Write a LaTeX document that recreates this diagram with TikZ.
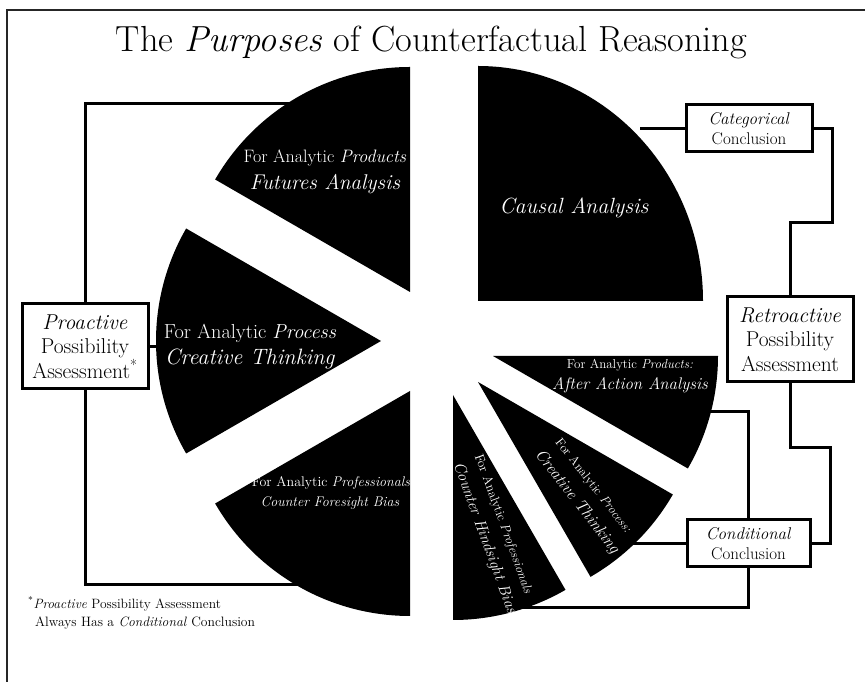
\documentclass[tikz,border=0pt]{standalone}
\usepackage{tikz}
\newcommand{\fs}[2]{\fontsize{#1}{#2}\selectfont}
\begin{document}
\begin{tikzpicture}[x=1pt,y=1pt,
  sector/.style={fill=black},
  conn/.style={line width=3pt,draw=black},
  frameline/.style={line width=2.6pt,draw=black!85},
  box/.style={draw=black,line width=3pt,fill=white,inner sep=0pt,align=center,minimum width=126pt},
  bigbox/.style={box,minimum height=85pt,font=\fs{21.5}{24.5}},
  smallbox/.style={box,minimum height=47pt,font=\fs{17}{19.5}},
  wtxt/.style={text=white,inner sep=0pt,align=center},
  btxt/.style={text=black,inner sep=0pt}
]
\useasboundingbox (0,0) rectangle (865,682);
% frame
\draw[frameline] (7,0) -- (7,672) -- (865,672);
% title
\node[btxt,font=\fs{36.3}{42}] (title) at (431.5,640) {The \textit{Purposes} of Counterfactual Reasoning};

% boxes
\node[bigbox] (pro) at (85,335.5) {\textit{Proactive}\\Possibility\\Assessment\textsuperscript{*}};
\node[smallbox] (cat) at (749,553.5) {\textit{Categorical}\\Conclusion};
\node[bigbox] (retro) at (790,342.5) {\textit{Retroactive}\\Possibility\\Assessment};
\node[smallbox,minimum width=123pt] (cond) at (748.5,138.5) {\textit{Conditional}\\Conclusion};

% coordinates inside sectors / bends
\coordinate (fA) at (300,578);
\coordinate (fB) at (175,335.5);
\coordinate (fC) at (310,97);
\coordinate (causalEnd) at (640,553.5);
\coordinate (aaEnd) at (690,270);
\coordinate (cpEnd) at (620,138.5);
\coordinate (hsEnd) at (505,74);
\coordinate (k1) at (832,459);
\coordinate (k2) at (790,459);
\coordinate (k4) at (830,234);

% connectors
\draw[conn] (pro.north) |- (fA);
\draw[conn] (pro.east) -- (fB);
\draw[conn] (pro.south) |- (fC);
\draw[conn] (cat.west) -- (causalEnd);
\draw[conn] (cat.east) -| (k1) -- (k2) -- (retro.north);
\draw[conn] (retro.south) |- (k4) |- (cond.east);
\draw[conn] (aaEnd) -| (cond.north);
\draw[conn] (cpEnd) -- (cond.west);
\draw[conn] (hsEnd) -| (cond.south);

% sectors
\fill[sector] (410,390) -- ++(90:225) arc[start angle=90,end angle=150,radius=225] -- cycle;
\fill[sector] (381,341) -- ++(150:225) arc[start angle=150,end angle=210,radius=225] -- cycle;
\fill[sector] (410,291) -- ++(210:225) arc[start angle=210,end angle=270,radius=225] -- cycle;
\fill[sector] (478,381) -- ++(225,0) arc[start angle=0,end angle=90,x radius=225,y radius=235] -- cycle;
\fill[sector] (493,326) -- ++(-30:225) arc[start angle=-30,end angle=0,radius=225] -- cycle;
\fill[sector] (478,300) -- ++(-60:225) arc[start angle=-60,end angle=-30,radius=225] -- cycle;
\fill[sector] (453,287) -- ++(-90:225) arc[start angle=-90,end angle=-60,radius=225] -- cycle;

% sector texts
\node[wtxt,font=\fs{18}{21}] (fut1) at (325,524) {For Analytic \textit{Products}};
\node[wtxt,font=\fs{21.3}{25}] (fut2) at (325,498) {\textit{Futures Analysis}};
\node[wtxt,font=\fs{20.3}{24}] (crt1) at (250,349) {For Analytic \textit{Process}};
\node[wtxt,font=\fs{22.2}{26}] (crt2) at (250,323) {\textit{Creative Thinking}};
\node[wtxt,font=\fs{14}{17}] (cfb1) at (331,199) {For Analytic \textit{Professionals}};
\node[wtxt,font=\fs{14}{17}] (cfb2) at (330,179) {\textit{Counter Foresight Bias}};
\node[wtxt,font=\fs{22}{26}] (causal) at (574,474) {\textit{Causal Analysis}};
\node[wtxt,font=\fs{13}{16}] (aa1) at (630,317) {For Analytic \textit{Products:}};
\node[wtxt,font=\fs{16.8}{20}] (aa2) at (630,297) {\textit{After Action Analysis}};
\node[wtxt,font=\fs{12.6}{15},rotate=-52] (cp1) at (593,196) {For Analytic \textit{Process:}};
\node[wtxt,font=\fs{16.6}{19},rotate=-52] (cp2) at (577,180) {\textit{Creative Thinking}};
\node[wtxt,font=\fs{13}{15.5},rotate=-70] (hs1) at (503,158) {For Analytic \textit{Professionals}};
\node[wtxt,font=\fs{15.8}{18.5},rotate=-70] (hs2) at (484.6,143.8) {\textit{Counter Hindsight Bias}};

% footnote
\node[btxt,font=\fs{13.5}{16},anchor=west] (fn1) at (28,78) {\textsuperscript{*}\textit{Proactive} Possibility Assessment};
\node[btxt,font=\fs{13.6}{16},anchor=west] (fn2) at (35,59) {Always Has a \textit{Conditional} Conclusion};
\end{tikzpicture}
\end{document}
